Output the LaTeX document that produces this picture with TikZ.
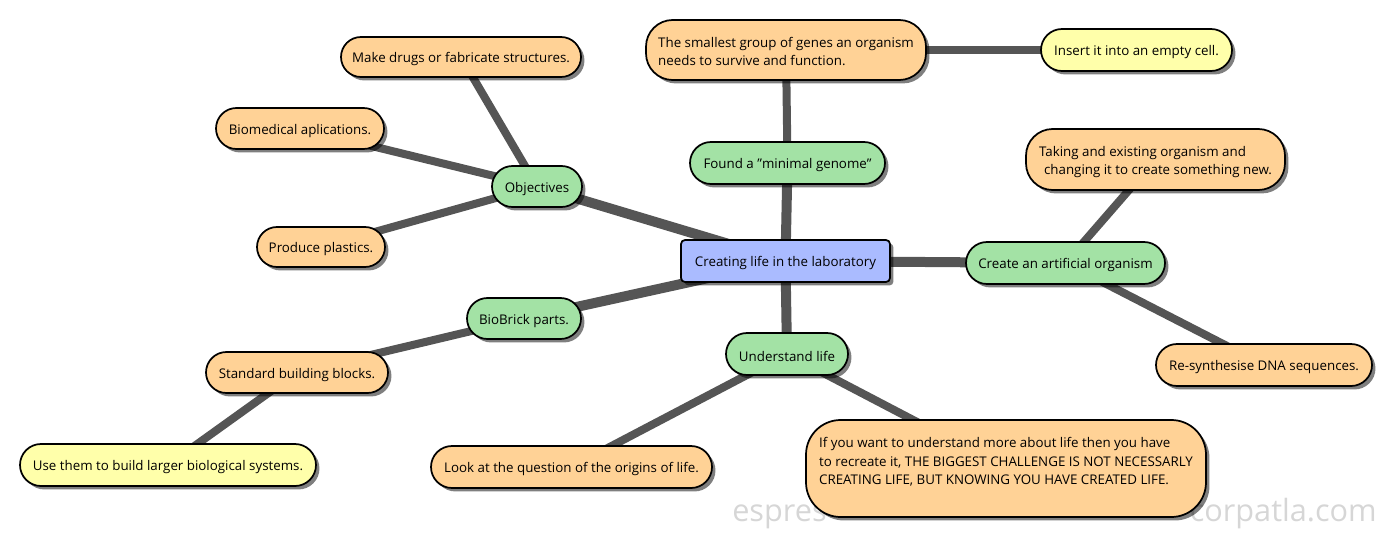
\documentclass[tikz,border=0pt]{standalone}
\usepackage{fontspec}
\setmainfont{Open Sans}
\usetikzlibrary{shadows,backgrounds,shapes.misc}
\definecolor{greenbox}{HTML}{A3E2A5}
\definecolor{orangebox}{HTML}{FFD296}
\definecolor{yellowbox}{HTML}{FFFFAA}
\definecolor{bluebox}{HTML}{AABBFF}
\definecolor{branchgrey}{HTML}{555555}
\newcommand{\toppad}[1]{\rule{0pt}{#1}}
\tikzset{
    topic/.style={draw=black, line width=1.3pt, inner sep=0pt, align=left,
        font=\fontsize{10}{13.9}\selectfont,
        execute at begin node={\rule{0pt}{10.8pt}},
        drop shadow={shadow xshift=2.6pt, shadow yshift=-2.6pt, fill=black, opacity=0.5}},
    pill/.style={topic, rounded rectangle},
    bubble/.style={topic, rounded corners=20pt},
    branch/.style={branchgrey, line width=7.5pt},
    twig/.style={branchgrey, line width=6pt},
    watermark/.style={text=black!16, inner sep=0pt, font=\fontsize{23}{23}\selectfont}
}
\begin{document}
\begin{tikzpicture}[x=0.75pt, y=-0.75pt]
    \useasboundingbox (0,0) rectangle (1389,539);
    \node[topic, fill=bluebox, rounded corners=3pt, minimum width=156.75pt, minimum height=31.5pt] (root) at (785.5,261) {Creating life in the laboratory};
    % first level
    \node[pill, fill=greenbox, minimum width=67.5pt, minimum height=30.75pt] (objectives) at (537,186.5) {Objectives};
    \node[pill, fill=greenbox, minimum width=146.25pt, minimum height=31.5pt] (minimal) at (787.5,163) {Found a "minimal genome"};
    \node[pill, fill=greenbox, minimum width=149.25pt, minimum height=31.5pt] (artificial) at (1065.5,263) {Create an artificial organism};
    \node[pill, fill=greenbox, minimum width=91.5pt, minimum height=31.5pt] (understand) at (787,354) {Understand life};
    \node[pill, fill=greenbox, minimum width=85.5pt, minimum height=30.75pt] (biobrick) at (524,318.5) {BioBrick parts.};
    % second level
    \node[pill, fill=orangebox, minimum width=180pt, minimum height=30pt] (drugs) at (461,57) {Make drugs or fabricate structures.};
    \node[pill, fill=orangebox, minimum width=126pt, minimum height=30.75pt] (biomedical) at (300,128.5) {Biomedical aplications.};
    \node[pill, fill=orangebox, minimum width=96pt, minimum height=30pt] (plastics) at (321,247) {Produce plastics.};
    \node[bubble, fill=orangebox, minimum width=210pt, minimum height=45pt] (smallest) at (786,50) {\toppad{9.6pt}The smallest group of genes an organism\\needs to survive and function.};
    \node[bubble, fill=orangebox, minimum width=194.25pt, minimum height=45.75pt] (taking) at (1155.5,159.5) {\toppad{11.6pt}Taking and existing organism and\\\hspace{3.75pt}changing it to create something new.};
    \node[pill, fill=orangebox, minimum width=162pt, minimum height=31.5pt] (resynth) at (1264,365) {Re-synthesise DNA sequences.};
    \node[pill, fill=orangebox, minimum width=210.75pt, minimum height=31.5pt] (origins) at (571.5,467) {Look at the question of the origins of life.};
    \node[bubble, fill=orangebox, rounded corners=26pt, minimum width=300pt, minimum height=72.75pt] (challenge) at (1006,468.5) {\toppad{10.6pt}If you want to understand more about life then you have\\to recreate it, THE BIGGEST CHALLENGE IS NOT NECESSARLY\\CREATING LIFE, BUT KNOWING YOU HAVE CREATED LIFE.\\~};
    \node[pill, fill=orangebox, minimum width=136.5pt, minimum height=30.75pt] (blocks) at (297,372.5) {Standard building blocks.};
    % third level
    \node[pill, fill=yellowbox, minimum width=143.25pt, minimum height=31.5pt] (cell) at (1136.5,50) {Insert it into an empty cell.};
    \node[pill, fill=yellowbox, minimum width=222pt, minimum height=31.5pt] (larger) at (168,465) {Use them to build larger biological systems.};
    \begin{scope}[on background layer]
        \node[watermark, anchor=base west] (wmleft) at (732,521) {espres};
        \node[watermark, anchor=base east] (wmright) at (1377,521) {corpatla.com};
        \draw[branch] (root.center) -- (objectives.center);
        \draw[branch] (root.center) -- (minimal.center);
        \draw[branch] (root.center) -- (artificial.center);
        \draw[branch] (root.center) -- (understand.center);
        \draw[branch] (root.center) -- (biobrick.center);
        \draw[twig] (objectives.center) -- (drugs.center);
        \draw[twig] (objectives.center) -- (biomedical.center);
        \draw[twig] (objectives.center) -- (plastics.center);
        \draw[twig] (minimal.center) -- (smallest.center);
        \draw[twig] (smallest.center) -- (cell.center);
        \draw[twig] (artificial.center) -- (taking.center);
        \draw[twig] (artificial.center) -- (resynth.center);
        \draw[twig] (understand.center) -- (origins.center);
        \draw[twig] (understand.center) -- (challenge.center);
        \draw[twig] (biobrick.center) -- (blocks.center);
        \draw[twig] (blocks.center) -- (larger.center);
    \end{scope}
\end{tikzpicture}
\end{document}
